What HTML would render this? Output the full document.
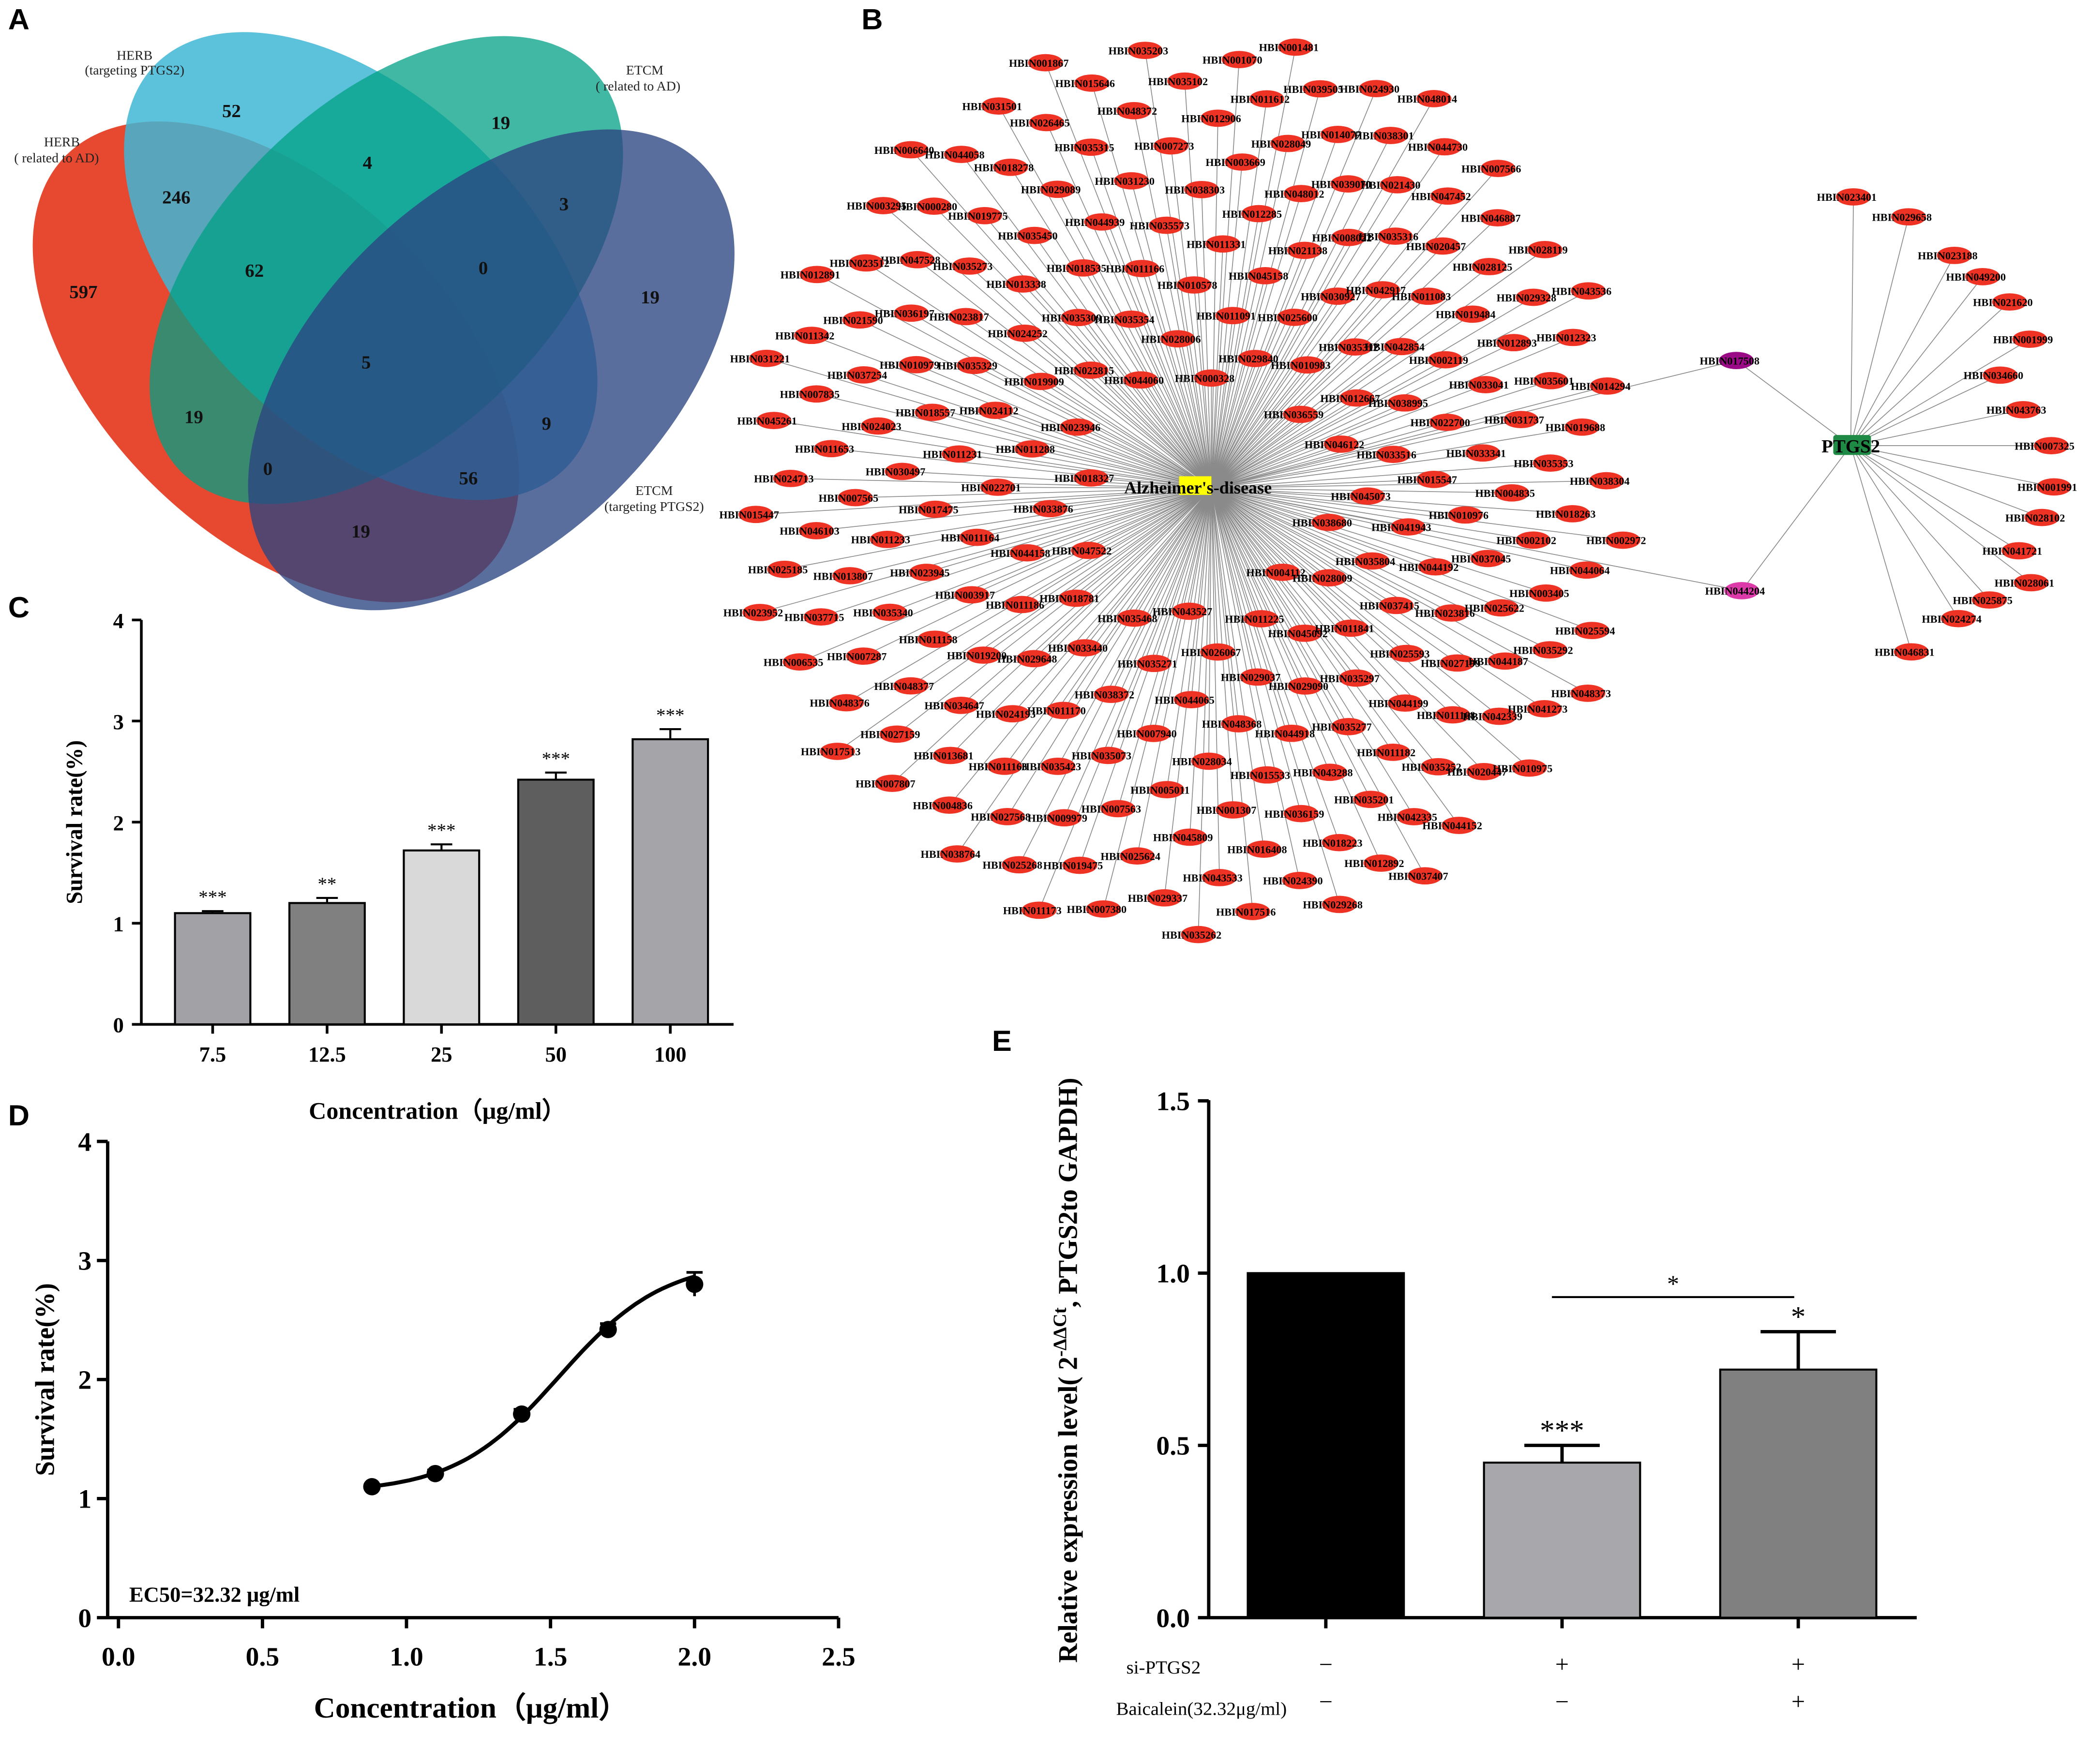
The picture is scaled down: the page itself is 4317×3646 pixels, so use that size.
<!DOCTYPE html>
<html><head><meta charset="utf-8"><style>
html,body{margin:0;padding:0;background:#fff;}
svg{display:block;}
text{font-family:"Liberation Serif",serif;}
.pl{font-family:"Liberation Sans",sans-serif;font-weight:bold;font-size:22px;}
.nl{font-size:8px;font-weight:bold;}
</style></head><body>
<svg id="fig" width="4317" height="3646" viewBox="0 0 1552 1326" preserveAspectRatio="none" xmlns="http://www.w3.org/2000/svg">
<g>
<text class="pl" x="6" y="22">A</text>
<ellipse cx="205" cy="272" rx="220" ry="130" transform="rotate(45 205 272)" fill="#e53e25" fill-opacity="0.95"/>
<ellipse cx="268" cy="200" rx="215" ry="125" transform="rotate(45 268 200)" fill="#3fb6d3" fill-opacity="0.85"/>
<ellipse cx="287" cy="203" rx="215" ry="125" transform="rotate(-45 287 203)" fill="#00a084" fill-opacity="0.75"/>
<ellipse cx="365" cy="278" rx="220" ry="130" transform="rotate(-45 365 278)" fill="#2b4582" fill-opacity="0.78"/>
<g font-size="14" font-weight="bold" text-anchor="middle" fill="#111">
<text x="172" y="88">52</text><text x="372" y="97">19</text><text x="273" y="127">4</text>
<text x="131" y="153">246</text><text x="419" y="158">3</text><text x="189" y="208">62</text>
<text x="359" y="206">0</text><text x="62" y="224">597</text><text x="483" y="228">19</text>
<text x="272" y="277">5</text><text x="144" y="318">19</text><text x="406" y="323">9</text>
<text x="199" y="357">0</text><text x="348" y="364">56</text><text x="268" y="404">19</text>
</g>
<g font-size="10" text-anchor="middle" fill="#222">
<text x="100" y="45">HERB</text><text x="100" y="56">(targeting PTGS2)</text>
<text x="479" y="56">ETCM</text><text x="474" y="68">( related to AD)</text>
<text x="46" y="110">HERB</text><text x="42" y="122">( related to AD)</text>
<text x="486" y="372">ETCM</text><text x="486" y="384">(targeting PTGS2)</text>
</g>
</g>

<g id="net">
<text class="pl" x="640" y="22">B</text>
</g>
<g id="pc">
<text class="pl" x="6" y="464">C</text>
</g>
<g id="pd">
<text class="pl" x="6" y="846">D</text>
</g>
<g id="pe">
<text class="pl" x="737" y="790">E</text>
</g>
</svg>
<script>
const NS="http://www.w3.org/2000/svg";
function mk(parent,tag,attrs,txt){const e=document.createElementNS(NS,tag);for(const k in attrs)e.setAttribute(k,attrs[k]);if(txt!==undefined)e.textContent=txt;parent.appendChild(e);return e;}

const adNodes=["HBIN000328","HBIN004112","HBIN018327","HBIN036559","HBIN043527","HBIN044060","HBIN038680","HBIN047522","HBIN029840","HBIN011225","HBIN023946","HBIN046122","HBIN035468","HBIN028006","HBIN028009","HBIN033876","HBIN010983","HBIN026067","HBIN022815","HBIN045073","HBIN018781","HBIN011091","HBIN045092","HBIN011288","HBIN012667","HBIN035271","HBIN035354","HBIN035804","HBIN044158","HBIN025600","HBIN029037","HBIN019909","HBIN033516","HBIN033440","HBIN010578","HBIN011841","HBIN022701","HBIN035312","HBIN044065","HBIN035309","HBIN041943","HBIN011186","HBIN045158","HBIN029090","HBIN024112","HBIN038995","HBIN038372","HBIN011166","HBIN037415","HBIN011164","HBIN030927","HBIN048368","HBIN024252","HBIN015547","HBIN029648","HBIN011331","HBIN035297","HBIN011231","HBIN042854","HBIN007940","HBIN018535","HBIN044192","HBIN003917","HBIN021138","HBIN044918","HBIN035329","HBIN022700","HBIN011170","HBIN035573","HBIN025593","HBIN017475","HBIN042917","HBIN028034","HBIN013338","HBIN010976","HBIN019200","HBIN012285","HBIN035277","HBIN018557","HBIN002119","HBIN035073","HBIN044939","HBIN023816","HBIN023945","HBIN008022","HBIN015533","HBIN023817","HBIN033341","HBIN024193","HBIN038303","HBIN044199","HBIN030497","HBIN011083","HBIN005011","HBIN035450","HBIN037045","HBIN011158","HBIN048012","HBIN043288","HBIN010979","HBIN033041","HBIN035423","HBIN031230","HBIN027199","HBIN011233","HBIN035316","HBIN001307","HBIN035273","HBIN004835","HBIN034647","HBIN003669","HBIN011182","HBIN024023","HBIN019484","HBIN007563","HBIN029089","HBIN025622","HBIN035340","HBIN039070","HBIN036159","HBIN036197","HBIN031737","HBIN011163","HBIN007273","HBIN011168","HBIN007565","HBIN020457","HBIN045809","HBIN019775","HBIN002102","HBIN048377","HBIN028049","HBIN035201","HBIN037254","HBIN012893","HBIN009979","HBIN035315","HBIN044187","HBIN013807","HBIN021430","HBIN016408","HBIN047528","HBIN035353","HBIN013681","HBIN012906","HBIN035252","HBIN011653","HBIN028125","HBIN025624","HBIN018278","HBIN003405","HBIN007287","HBIN014077","HBIN018223","HBIN021590","HBIN035601","HBIN027568","HBIN048372","HBIN042339","HBIN046103","HBIN047452","HBIN043533","HBIN000280","HBIN018263","HBIN027159","HBIN011612","HBIN042335","HBIN007835","HBIN029328","HBIN019475","HBIN026465","HBIN035292","HBIN037715","HBIN038301","HBIN024390","HBIN023512","HBIN019688","HBIN004836","HBIN035102","HBIN020447","HBIN024713","HBIN046887","HBIN029337","HBIN044058","HBIN044064","HBIN048376","HBIN039505","HBIN012892","HBIN011342","HBIN012323","HBIN025268","HBIN015646","HBIN041273","HBIN025185","HBIN044730","HBIN017516","HBIN003295","HBIN038304","HBIN007807","HBIN001070","HBIN044152","HBIN045261","HBIN028119","HBIN007380","HBIN031501","HBIN025594","HBIN006535","HBIN024930","HBIN029268","HBIN012891","HBIN014294","HBIN038764","HBIN035203","HBIN010975","HBIN015447","HBIN007566","HBIN035262","HBIN006640","HBIN002972","HBIN017513","HBIN001481","HBIN037407","HBIN031221","HBIN043536","HBIN011173","HBIN001867","HBIN048373","HBIN023952","HBIN048014"];
const ptgsNodes=["HBIN023401","HBIN029658","HBIN023188","HBIN049200","HBIN021620","HBIN001999","HBIN034660","HBIN043763","HBIN007325","HBIN001991","HBIN028102","HBIN041721","HBIN028061","HBIN025875","HBIN024274","HBIN046831"];
const ptgsPos=[[1377,148],[1418,163],[1452,192],[1473,208],[1493,227],[1508,255],[1486,282],[1503,308],[1524,335],[1526,366],[1517,389],[1500,414],[1509,438],[1478,451],[1455,465],[1420,490]];

const net=document.getElementById('net');
const cx=900,cy=367;
const N=adNodes.length;
const pts=adNodes.map((n,i)=>{const r=Math.sqrt((i+14)/(N+14));const a=-Math.PI/2+i*2.39996;
  let rx=350,ry=345; if(Math.cos(a)>0) rx=315;
  return [cx+rx*r*Math.cos(a), cy+ry*r*Math.sin(a)];});
const eg=mk(net,'g',{stroke:'#8a8a8a','stroke-width':'0.6'});


pts.forEach(p=>mk(eg,'line',{x1:cx,y1:cy,x2:p[0],y2:p[1]}));
const px=1375,py=335;
mk(eg,'line',{x1:cx,y1:cy,x2:1290,y2:271});
mk(eg,'line',{x1:cx,y1:cy,x2:1294,y2:444});
mk(eg,'line',{x1:1290,y1:271,x2:px,y2:py});
mk(eg,'line',{x1:1294,y1:444,x2:px,y2:py});
ptgsPos.forEach(p=>mk(eg,'line',{x1:px,y1:py,x2:p[0],y2:p[1]}));
function node(x,y,label,fill){const g=mk(net,'g',{});
  
  
  mk(g,'ellipse',{cx:x,cy:y,rx:13,ry:6.5,fill:fill});
  mk(g,'text',{x:x-5,y:y+3,'text-anchor':'middle',class:'nl'},label);}
pts.forEach((p,i)=>node(p[0],p[1],adNodes[i],'#ee3224'));
ptgsNodes.forEach((n,i)=>node(ptgsPos[i][0],ptgsPos[i][1],n,'#ee3224'));
node(1290,271,'HBIN017508','#9b0a86');
node(1294,444,'HBIN044204','#dc3aa8');
const hub=mk(net,'g',{});


mk(hub,'rect',{x:876,y:358,width:24,height:14,fill:'#ffff00'});
mk(hub,'text',{x:890,y:371,'text-anchor':'middle','font-size':'13','font-weight':'bold'},"Alzheimer's-disease");
const ph=mk(net,'g',{});


mk(ph,'rect',{x:1362,y:327,width:28,height:15,fill:'#1e8a45',rx:2});
mk(ph,'text',{x:1375,y:340,'text-anchor':'middle','font-size':'14','font-weight':'bold'},'PTGS2');

// Panel C
const cCats=["7.5","12.5","25","50","100"];
const cVals=[1.1,1.2,1.72,2.42,2.82];
const cErr=[0.02,0.05,0.06,0.07,0.1];
const cStars=["***","**","***","***","***"];
const cColors=["#a2a2a6","#808080","#d9d9d9","#5e5e5e","#a5a5a9"];
const cTicks=[0,1,2,3,4];
(function(){const g=document.getElementById('pc');
 const y=v=>770-v*76, x=i=>158+i*85;
 mk(g,'line',{x1:105,y1:466,x2:105,y2:770,stroke:'#000','stroke-width':2});
 mk(g,'line',{x1:105,y1:770,x2:545,y2:770,stroke:'#000','stroke-width':2});
 cTicks.forEach(t=>{mk(g,'line',{x1:98,y1:y(t),x2:105,y2:y(t),stroke:'#000','stroke-width':2});
  mk(g,'text',{x:92,y:y(t)+6,'text-anchor':'end','font-size':16,'font-weight':'bold'},t);});
 cVals.forEach((v,i)=>{const b=mk(g,'rect',{x:x(i)-28,y:y(v),width:56,height:770-y(v),fill:cColors[i],stroke:'#000','stroke-width':1.5});
  
  
  mk(g,'line',{x1:x(i),y1:y(v),x2:x(i),y2:y(v+cErr[i]),stroke:'#000','stroke-width':1.5});
  mk(g,'line',{x1:x(i)-8,y1:y(v+cErr[i]),x2:x(i)+8,y2:y(v+cErr[i]),stroke:'#000','stroke-width':1.5});
  mk(g,'text',{x:x(i),y:y(v+cErr[i])-6,'text-anchor':'middle','font-size':14},cStars[i]);
  mk(g,'line',{x1:x(i),y1:770,x2:x(i),y2:777,stroke:'#000','stroke-width':2});
  mk(g,'text',{x:x(i),y:798,'text-anchor':'middle','font-size':16,'font-weight':'bold'},cCats[i]);});
 mk(g,'text',{x:0,y:0,transform:'translate(61 618) rotate(-90)','text-anchor':'middle','font-size':17,'font-weight':'bold'},'Survival rate(%)');
 mk(g,'text',{x:325,y:841,'text-anchor':'middle','font-size':18,'font-weight':'bold'},'Concentration（μg/ml）');
})();

// Panel D
const dX=[0.88,1.1,1.4,1.7,2.0];
const dY=[1.1,1.21,1.71,2.42,2.8];
const dErr=[0.02,0.03,0.04,0.05,0.1];
const dFit=[1.05,3.0,1.53,2.4];
const dXTicks=["0.0","0.5","1.0","1.5","2.0","2.5"];
const dYTicks=[0,1,2,3,4];
(function(){const g=document.getElementById('pd');
 const X=v=>88+v*214, Y=v=>1216-v*89.5;
 mk(g,'line',{x1:80,y1:858,x2:80,y2:1216,stroke:'#000','stroke-width':2.5});
 mk(g,'line',{x1:80,y1:1216,x2:623,y2:1216,stroke:'#000','stroke-width':2.5});
 dYTicks.forEach(t=>{mk(g,'line',{x1:72,y1:Y(t),x2:80,y2:Y(t),stroke:'#000','stroke-width':2.5});
  mk(g,'text',{x:68,y:Y(t)+7,'text-anchor':'end','font-size':20,'font-weight':'bold'},t);});
 dXTicks.forEach(t=>{const v=parseFloat(t);mk(g,'line',{x1:X(v),y1:1216,x2:X(v),y2:1224,stroke:'#000','stroke-width':2.5});
  mk(g,'text',{x:X(v),y:1252,'text-anchor':'middle','font-size':20,'font-weight':'bold'},t);});
 let d='';for(let k=0;k<=60;k++){const v=dX[0]+(dX[dX.length-1]-dX[0])*k/60;
  const f=dFit[0]+(dFit[1]-dFit[0])/(1+Math.pow(10,(dFit[2]-v)*dFit[3]));d+=(k?'L':'M')+X(v).toFixed(1)+' '+Y(f).toFixed(1);}
 const c=mk(g,'path',{d:d,fill:'none',stroke:'#000','stroke-width':3});
 
 
 dX.forEach((v,i)=>{mk(g,'line',{x1:X(v),y1:Y(dY[i]-dErr[i]),x2:X(v),y2:Y(dY[i]+dErr[i]),stroke:'#000','stroke-width':2});
  mk(g,'line',{x1:X(v)-6,y1:Y(dY[i]+dErr[i]),x2:X(v)+6,y2:Y(dY[i]+dErr[i]),stroke:'#000','stroke-width':2});
  const p=mk(g,'circle',{cx:X(v),cy:Y(dY[i]),r:6.5,fill:'#000'});
  
  });
 mk(g,'text',{x:96,y:1204,'font-size':16,'font-weight':'bold'},'EC50=32.32 μg/ml');
 mk(g,'text',{x:0,y:0,transform:'translate(40 1037) rotate(-90)','text-anchor':'middle','font-size':20,'font-weight':'bold'},'Survival rate(%)');
 mk(g,'text',{x:350,y:1291,'text-anchor':'middle','font-size':22,'font-weight':'bold'},'Concentration（μg/ml）');
})();

// Panel E
const eVals=[1.0,0.45,0.72];
const eErr=[0,0.05,0.11];
const eColors=["#000000","#a8a8ac","#808080"];
const eStars=["","***","*"];
const eSi=["−","+","+"];
const eBa=["−","−","+"];
const eTicks=["0.0","0.5","1.0","1.5"];
(function(){const g=document.getElementById('pe');
 const Y=v=>1216-v*259, X=i=>985+i*175.5;
 mk(g,'line',{x1:898,y1:827,x2:898,y2:1216,stroke:'#000','stroke-width':2.5});
 mk(g,'line',{x1:898,y1:1216,x2:1424,y2:1216,stroke:'#000','stroke-width':2.5});
 eTicks.forEach(t=>{const v=parseFloat(t);mk(g,'line',{x1:890,y1:Y(v),x2:898,y2:Y(v),stroke:'#000','stroke-width':2.5});
  mk(g,'text',{x:884,y:Y(v)+7,'text-anchor':'end','font-size':20,'font-weight':'bold'},t);});
 eVals.forEach((v,i)=>{const b=mk(g,'rect',{x:X(i)-58,y:Y(v),width:116,height:1216-Y(v),fill:eColors[i],stroke:'#000','stroke-width':1.5});
  
  
  if(eErr[i]>0){mk(g,'line',{x1:X(i),y1:Y(v),x2:X(i),y2:Y(v+eErr[i]),stroke:'#000','stroke-width':2.5});
   mk(g,'line',{x1:X(i)-28,y1:Y(v+eErr[i]),x2:X(i)+28,y2:Y(v+eErr[i]),stroke:'#000','stroke-width':2.5});}
  if(eStars[i])mk(g,'text',{x:X(i),y:Y(v+eErr[i])-4,'text-anchor':'middle','font-size':22},eStars[i]);
  mk(g,'line',{x1:X(i),y1:1216,x2:X(i),y2:1224,stroke:'#000','stroke-width':2.5});
  mk(g,'text',{x:X(i),y:1257,'text-anchor':'middle','font-size':18},eSi[i]);
  mk(g,'text',{x:X(i),y:1285,'text-anchor':'middle','font-size':18},eBa[i]);});
 mk(g,'line',{x1:1153,y1:975,x2:1333,y2:975,stroke:'#000','stroke-width':1.5});
 mk(g,'text',{x:1243,y:971,'text-anchor':'middle','font-size':18},'*');
 mk(g,'text',{x:892,y:1258,'text-anchor':'end','font-size':14},'si-PTGS2');
 mk(g,'text',{x:956,y:1289,'text-anchor':'end','font-size':14},'Baicalein(32.32μg/ml)');
 const yl=mk(g,'text',{x:0,y:0,transform:'translate(800 1030) rotate(-90)','text-anchor':'middle','font-size':20,'font-weight':'bold'});
 yl.textContent='Relative expression level( 2';
 mk(yl,'tspan',{dy:-8,'font-size':14},'-ΔΔCt');
 mk(yl,'tspan',{dy:8},', PTGS2to GAPDH)');
})();
</script>
</body></html>
